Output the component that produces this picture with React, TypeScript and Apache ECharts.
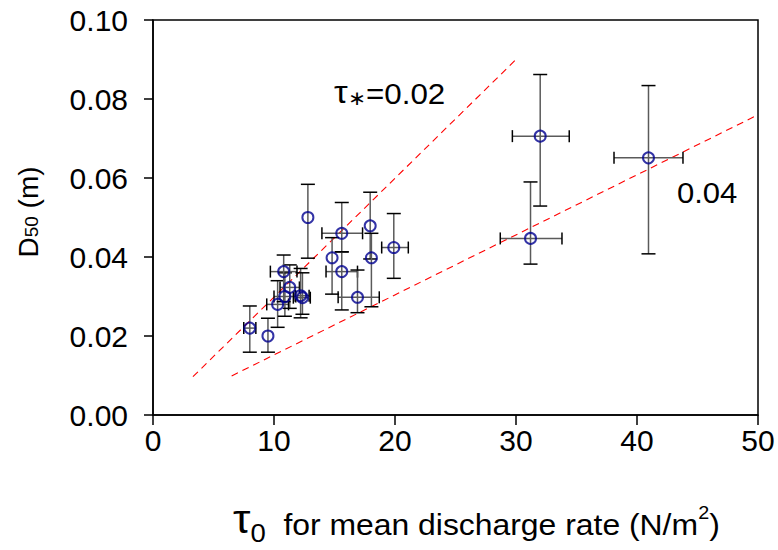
import React, { useEffect, useRef } from "react";
import * as echarts from "echarts";

// Data
const tau = [8.0, 9.5, 10.3, 10.9, 11.3, 10.8, 12.2, 12.35, 12.8, 15.6, 14.8, 15.6, 16.9, 17.95, 18.05, 19.9, 31.2, 32.0, 40.95];
const d50 = [0.022, 0.020, 0.028, 0.030, 0.0323, 0.0363, 0.0302, 0.0297, 0.050, 0.046, 0.0398, 0.0363, 0.0298, 0.0479, 0.0398, 0.0424, 0.0447, 0.0706, 0.0651];
const d50Low = [0.0159, 0.0159, 0.0222, 0.025, 0.027, 0.0287, 0.0246, 0.0255, 0.0397, 0.0413, 0.0306, 0.0266, 0.0259, 0.0395, 0.0274, 0.0346, 0.0382, 0.0529, 0.0408];
const d50High = [0.0276, 0.0245, 0.034, 0.036, 0.038, 0.0405, 0.0371, 0.036, 0.0584, 0.0538, 0.0449, 0.0413, 0.0367, 0.0564, 0.046, 0.051, 0.059, 0.0862, 0.0834];
const tauLow = [7.5, 9.5, 9.4, 10.0, 10.5, 9.7, 11.75, 11.6, 12.8, 13.96, 14.8, 14.3, 15.3, 17.95, 18.05, 18.9, 28.7, 29.7, 38.1];
const tauHigh = [8.5, 9.5, 11.2, 11.8, 12.1, 11.9, 12.9, 13.0, 12.8, 17.32, 14.8, 16.9, 18.7, 17.95, 18.05, 21.1, 33.8, 34.4, 43.8];

const line002X = [3.3, 30];
const line002Y = [0.0097, 0.090];
const line004X = [6.5, 50];
const line004Y = [0.0099, 0.076];

const xTicks = [0, 10, 20, 30, 40, 50];
const yTicks = [0, 0.02, 0.04, 0.06, 0.08, 0.1];

const FONT = "Liberation Sans, Arial, sans-serif";

export default function App() {
  const ref = useRef<HTMLDivElement>(null);
  useEffect(() => {
    if (!ref.current) return;
    const chart = echarts.init(ref.current, null, { renderer: "svg" });
    const errData = tau.map((t, i) => [t, d50[i], tauLow[i], tauHigh[i], d50Low[i], d50High[i]]);
    const barColor = "#5a5a5a";
    const option: any = {
      animation: false,
      backgroundColor: "#fff",
      grid: { left: 153, top: 20, right: 20, bottom: 135, show: true, borderColor: "#000", borderWidth: 1.5, backgroundColor: "transparent" },
      xAxis: {
        type: "value",
        min: xTicks[0],
        max: xTicks[xTicks.length - 1],
        interval: 10,
        axisLine: { show: true, onZero: false, lineStyle: { color: "#000", width: 1.5 } },
        axisTick: { show: true, inside: false, length: 10, lineStyle: { color: "#000", width: 1.5 } },
        axisLabel: { fontSize: 30, fontFamily: FONT, color: "#000", margin: 10 },
        splitLine: { show: false },
      },
      yAxis: {
        type: "value",
        min: yTicks[0],
        max: yTicks[yTicks.length - 1],
        interval: 0.02,
        axisLine: { show: true, onZero: false, lineStyle: { color: "#000", width: 1.5 } },
        axisTick: { show: true, inside: false, length: 9, lineStyle: { color: "#000", width: 1.5 } },
        axisLabel: { fontSize: 30, fontFamily: FONT, color: "#000", margin: 25, formatter: (v: number) => v.toFixed(2) },
        splitLine: { show: false },
      },
      series: [
        {
          type: "line",
          data: line002X.map((x, i) => [x, line002Y[i]]),
          symbol: "none",
          lineStyle: { color: "#ff0000", width: 1.1, type: [7, 5] },
          z: 1,
        },
        {
          type: "line",
          data: line004X.map((x, i) => [x, line004Y[i]]),
          symbol: "none",
          lineStyle: { color: "#ff0000", width: 1.1, type: [7, 5] },
          z: 1,
        },
        {
          type: "custom",
          data: errData,
          z: 2,
          renderItem: (params: any, api: any) => {
            const x = api.value(0), y = api.value(1);
            const xl = api.value(2), xh = api.value(3), yl = api.value(4), yh = api.value(5);
            const c = api.coord([x, y]);
            const pyl = api.coord([x, yl]);
            const pyh = api.coord([x, yh]);
            const pxl = api.coord([xl, y]);
            const pxh = api.coord([xh, y]);
            const style = { stroke: barColor, lineWidth: 1.5, fill: "none" };
            const cw = 7, ch = 6;
            const children: any[] = [
              { type: "line", shape: { x1: c[0], y1: pyh[1], x2: c[0], y2: pyl[1] }, style },
              { type: "line", shape: { x1: c[0] - cw, y1: pyh[1], x2: c[0] + cw, y2: pyh[1] }, style: { ...style, stroke: "#000" } },
              { type: "line", shape: { x1: c[0] - cw, y1: pyl[1], x2: c[0] + cw, y2: pyl[1] }, style: { ...style, stroke: "#000" } },
            ];
            if (xh > xl) {
              children.push(
                { type: "line", shape: { x1: pxl[0], y1: c[1], x2: pxh[0], y2: c[1] }, style },
                { type: "line", shape: { x1: pxl[0], y1: c[1] - ch, x2: pxl[0], y2: c[1] + ch }, style: { ...style, stroke: "#000" } },
                { type: "line", shape: { x1: pxh[0], y1: c[1] - ch, x2: pxh[0], y2: c[1] + ch }, style: { ...style, stroke: "#000" } }
              );
            }
            return { type: "group", children };
          },
        },
        {
          type: "scatter",
          data: tau.map((t, i) => [t, d50[i]]),
          symbol: "circle",
          symbolSize: 11,
          itemStyle: { color: "rgba(255,255,255,0)", borderColor: "#000090", borderWidth: 2 },
          z: 3,
        },
      ],
      graphic: [
        {
          type: "text",
          x: 26,
          y: 212,
          rotation: Math.PI / 2,
          style: {
            text: "{a|D}{b|50}{a| (m)}",
            align: "center",
            verticalAlign: "middle",
            rich: {
              a: { fontSize: 28, fontFamily: FONT, fill: "#000", lineHeight: 32, verticalAlign: "bottom" },
              b: { fontSize: 19, fontFamily: FONT, fill: "#000", lineHeight: 32, verticalAlign: "bottom", padding: [0, 0, 1, 0] },
            },
          },
        },
        {
          type: "text",
          x: 233,
          y: 497,
          scaleX: 1.1,
          style: {
            text: "{t|τ}{s|0}{a|  for mean discharge rate (N/m}{p|2}{a|)}",
            rich: {
              t: { fontSize: 40, fontFamily: FONT, fill: "#000", lineHeight: 42, verticalAlign: "bottom" },
              s: { fontSize: 25, fontFamily: FONT, fill: "#000", lineHeight: 42, verticalAlign: "bottom", padding: [0, 0, -7, 0] },
              a: { fontSize: 29, fontFamily: FONT, fill: "#000", lineHeight: 42, verticalAlign: "bottom" },
              p: { fontSize: 18, fontFamily: FONT, fill: "#000", lineHeight: 42, verticalAlign: "top", padding: [7, 0, 0, 0] },
            },
          },
        },
        {
          type: "text",
          x: 334,
          y: 72,
          scaleX: 1.08,
          style: {
            text: "{t|τ}{s|∗}{a|=0.02}",
            rich: {
              t: { fontSize: 32, fontFamily: FONT, fill: "#000", lineHeight: 36, verticalAlign: "bottom" },
              s: { fontSize: 20, fontFamily: FONT, fill: "#000", lineHeight: 36, verticalAlign: "bottom" },
              a: { fontSize: 29, fontFamily: FONT, fill: "#000", lineHeight: 36, verticalAlign: "bottom" },
            },
          },
        },
        {
          type: "text",
          x: 677,
          y: 178,
          scaleX: 1.07,
          style: { text: "0.04", fontSize: 29, fontFamily: FONT, fill: "#000" },
        },
      ],
    };
    chart.setOption(option);
    return () => chart.dispose();
  }, []);
  return <div ref={ref} style={{ position: "fixed", left: 0, top: 0, width: 778, height: 550, background: "#fff" }} />;
}
